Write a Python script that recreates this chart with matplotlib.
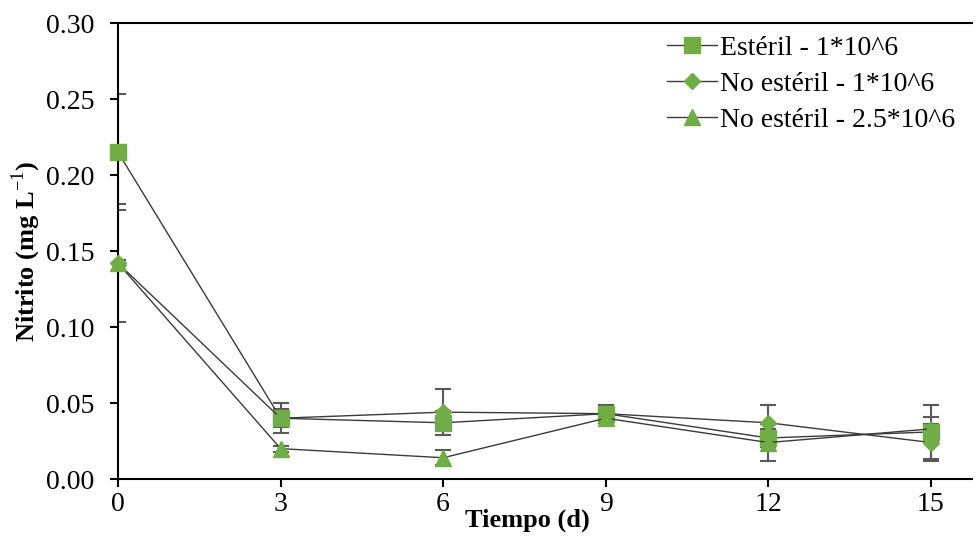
import matplotlib
matplotlib.use("Agg")
import matplotlib.pyplot as plt
import numpy as np

plt.rcParams['font.family'] = ['Liberation Serif', 'DejaVu Serif']
plt.rcParams['mathtext.fontset'] = 'custom'
plt.rcParams['mathtext.rm'] = 'Liberation Serif'
plt.rcParams['mathtext.bf'] = 'Liberation Serif:bold'

dias = [0, 3, 6, 9, 12, 15]

esteril = [0.215, 0.040, 0.037, 0.043, 0.027, 0.031]
esteril_err = [0.038, 0.010, 0.008, 0.006, 0.006, 0.018]

no_esteril = [0.142, 0.040, 0.044, 0.043, 0.037, 0.024]
no_esteril_err = [0.039, 0.006, 0.015, 0.004, 0.012, 0.012]

no_esteril_25 = [0.142, 0.020, 0.014, 0.040, 0.024, 0.033]
no_esteril_25_err = [0.002, 0.002, 0.005, 0.003, 0.012, 0.008]

etiquetas = ['Estéril - 1*10^6', 'No estéril - 1*10^6', 'No estéril - 2.5*10^6']
marcadores = ['s', 'D', '^']
tamanos = [12, 8, 11]
verde = '#70AD47'

fig = plt.figure(figsize=(9.76, 5.36), dpi=100)
ax = fig.add_axes([0.1209, 0.1063, 0.8746, 0.8507])

series = [(esteril, esteril_err), (no_esteril, no_esteril_err), (no_esteril_25, no_esteril_25_err)]
for (vals, errs), lab, mk, ms in zip(series, etiquetas, marcadores, tamanos):
    ax.errorbar(dias, vals, yerr=errs, fmt='none', ecolor='#595959', elinewidth=1.5,
                capsize=6, capthick=1.5, zorder=2)
    ax.plot(dias, vals, color='#3a3a3a', lw=1.0, marker=mk, markersize=ms,
            markerfacecolor=verde, markeredgecolor=verde, label=lab, zorder=3,
            clip_on=False)

ax.set_xlim(0, 15.75)
ax.set_ylim(0, 0.30)
ax.set_xticks(dias)
ax.set_yticks(np.arange(0, 0.301, 0.05))
ax.set_yticklabels(['%.2f' % v for v in np.arange(0, 0.301, 0.05)])
ax.tick_params(axis='both', labelsize=20, direction='out', length=6, width=1.5, color='black')
ax.tick_params(axis='y', pad=11)
ax.tick_params(axis='x', pad=3)
ax.spines['right'].set_visible(False)
for s in ['left', 'bottom', 'top']:
    ax.spines[s].set_linewidth(1.5)

ax.set_ylabel('Nitrito (mg L$^{-1}$)', fontsize=19, fontweight='bold')
ax.yaxis.set_label_coords(-0.088, 0.5)
ax.set_xlabel('Tiempo (d)', fontsize=19, fontweight='bold')
ax.xaxis.set_label_coords(0.48, -0.065)

ax.legend(loc='upper right', frameon=False, fontsize=20, handlelength=1.8,
          handletextpad=0.1, labelspacing=0.38, bbox_to_anchor=(1.0, 1.01), borderaxespad=0.2)

fig.savefig('out.png', dpi=100)
